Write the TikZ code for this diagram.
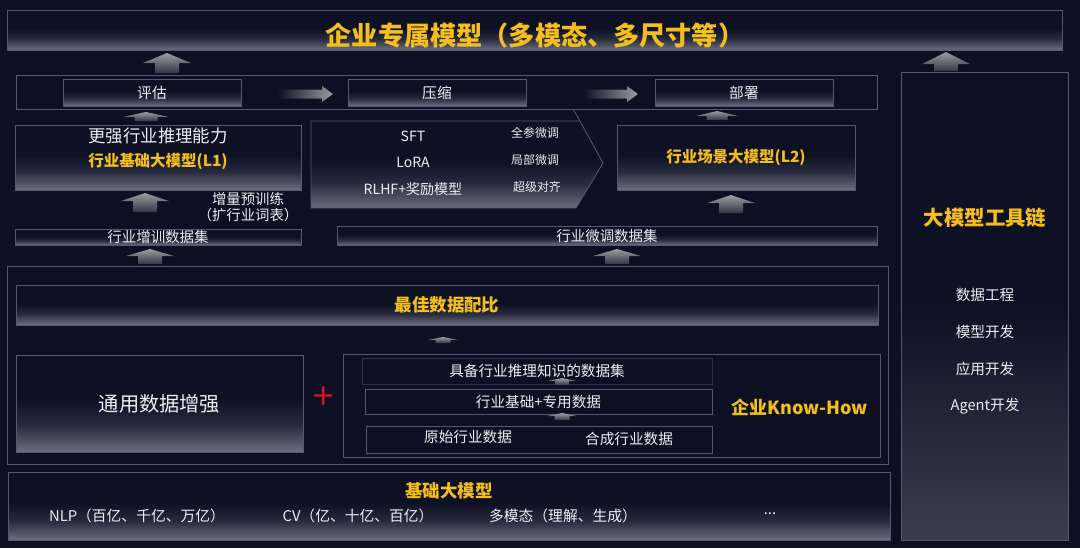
\documentclass[tikz,border=0pt]{standalone}
\usepackage{fontspec}
\setmainfont{Noto Sans CJK SC}
\usetikzlibrary{calc}

\definecolor{bg}{RGB}{13,15,34}
\definecolor{golden}{RGB}{244,190,28}
\definecolor{edge}{RGB}{84,88,114}
\definecolor{shtop}{RGB}{14,16,36}
\definecolor{shmid}{RGB}{40,42,62}
\definecolor{shbot}{RGB}{108,110,126}
\definecolor{tlbot}{RGB}{60,62,78}
\definecolor{arrtop}{RGB}{156,156,162}
\definecolor{arrbot}{RGB}{52,54,68}
\definecolor{plusred}{RGB}{205,25,35}
\definecolor{wtxt}{RGB}{238,238,242}

% visible band of a tikz shading is 25bp..75bp
\pgfdeclareverticalshading{boxshade}{100bp}{color(0bp)=(shbot); color(25bp)=(shbot); color(39bp)=(shmid); color(52bp)=(shtop); color(75bp)=(shtop); color(100bp)=(shtop)}
\pgfdeclareverticalshading{toolshade}{100bp}{color(0bp)=(tlbot); color(25bp)=(tlbot); color(50bp)=(shtop); color(75bp)=(shtop); color(100bp)=(shtop)}

\newcommand{\fs}[1]{\fontsize{#1}{#1}\selectfont}
\newcommand{\gfs}[1]{\fontsize{#1}{#1}\selectfont\bfseries}
% up block arrow: x, tip y, head base y, bottom y, half width of head
\newcommand{\uparr}[5]{\shade[top color=arrtop, bottom color=arrbot] (#1,#2) -- (#1+#5,#3) -- (#1+#5/2,#3) -- (#1+#5/2,#4) -- (#1-#5/2,#4) -- (#1-#5/2,#3) -- (#1-#5,#3) -- cycle;}
% right block arrow: start x, head x, tip x, mid y
\newcommand{\rarr}[4]{\shade[left color=bg, right color=arrtop] (#1,#4-4.5) -- (#2,#4-4.5) -- (#2,#4-8) -- (#3,#4) -- (#2,#4+8) -- (#2,#4+4.5) -- (#1,#4+4.5) -- cycle;}

\begin{document}
\begin{tikzpicture}[x=0.025cm, y=-0.025cm,
  sz/.style 2 args={minimum width=#1*0.025cm, minimum height=#2*0.025cm},
  box/.style={draw=edge, line width=0.6pt, shade, shading=boxshade, inner sep=0pt, text=wtxt},
  frame/.style={draw=edge, line width=0.7pt, inner sep=0pt},
  sub/.style={draw=edge, line width=0.6pt, fill=bg, inner sep=0pt, text=wtxt, font=\fs{10.4}},
  txt/.style={text=wtxt, inner sep=0pt, font=\fs{10.4}},
  goldtxt/.style={text=golden, inner sep=0pt}]

\fill[bg] (0,0) rectangle (1080,548);

% top
\node[box, sz={1055}{40}] (top) at (534.5,30) {};
\node[goldtxt, font=\gfs{18.6}] (topt) at (535,35) {企业专属模型（多模态、多尺寸等）};

% evaluate / compress / deploy
\node[frame, sz={861}{34}] (row) at (446.5,92) {};
\node[box, sz={178}{27}, font=\fs{10.5}] (eval) at (152,92.5) {评估};
\node[box, sz={178}{27}, font=\fs{10.5}] (comp) at (437,92.5) {压缩};
\node[box, sz={178}{27}, font=\fs{10.5}] (dep) at (744,92.5) {部署};
\rarr{277}{322}{333}{94}
\rarr{583}{627}{638}{94}

% L1
\node[box, sz={286}{65}] (l1) at (158,157.5) {};
\node[txt, font=\fs{12.4}] (l1a) at (158,136) {更强行业推理能力};
\node[goldtxt, font=\gfs{11}] (l1b) at (158,161) {行业基础大模型(L1)};

% fine-tuning
\shade[shading=boxshade, draw=edge, line width=0.6pt] (311,121) -- (580,121) -- (603,163) -- (576,208) -- (311,208) -- cycle;
\draw[edge, line width=0.6pt] (573,109) -- (580,121);
\node[txt, font=\fs{10}] (sft) at (413,136) {SFT};
\node[txt, font=\fs{10}] (lora) at (413,162) {LoRA};
\node[txt, font=\fs{10}] (rlhf) at (413,189) {RLHF+奖励模型};
\node[txt, font=\fs{8.5}] (full) at (535,133) {全参微调};
\node[txt, font=\fs{8.5}] (part) at (535,160) {局部微调};
\node[txt, font=\fs{8.5}] (align) at (537,187) {超级对齐};

% L2
\node[box, sz={238}{65}, text=golden, font=\gfs{11}] (l2) at (736,157.5) {行业场景大模型(L2)};

% datasets
\node[box, sz={286}{16}, font=\fs{10.3}] (zx) at (158,237) {行业增训数据集};
\node[box, sz={540}{19}, font=\fs{10.3}] (wt) at (607,235.5) {行业微调数据集};
\node[txt, font=\fontsize{10.2}{11.6}\selectfont, align=center] (pre) at (248,207) {增量预训练\\（扩行业词表）};

% data mix
\node[frame, sz={881}{198}] (mid) at (447.5,365) {};
\node[box, sz={862}{40}, text=golden, font=\gfs{12.4}] (mix) at (447,305) {最佳数据配比};
\node[box, sz={287}{97}, font=\fs{14.4}] (gen) at (159.5,403.5) {通用数据增强};
\node[text=plusred, inner sep=0pt, font=\fs{26}] (plus) at (324,398) {+};
\node[frame, sz={537}{103}] (kh) at (611.5,406) {};
\node[sub, sz={350}{26}, draw=edge!45!bg] (s1) at (537,371) {具备行业推理知识的数据集};
\node[sub, sz={347}{25}] (s2) at (538.5,401.5) {行业基础+专用数据};
\node[sub, sz={346}{27}] (s3) at (539,439.5) {};
\node[txt] (raw) at (468,437) {原始行业数据};
\node[txt] (syn) at (629,439) {合成行业数据};
\node[goldtxt, font=\gfs{12.8}] (know) at (800,407) {企业Know-How};

% base models
\node[box, sz={882}{68}] (base) at (449,506) {};
\node[goldtxt, font=\gfs{12.4}] (baset) at (449,491) {基础大模型};
\node[txt, font=\fs{10.5}] (nlp) at (137,516) {NLP（百亿、千亿、万亿）};
\node[txt, font=\fs{10.5}] (cv) at (358,516) {CV（亿、十亿、百亿）};
\node[txt, font=\fs{10.5}] (mm) at (563,516) {多模态（理解、生成）};
\node[txt, font=\fs{10.5}] (etc) at (770,514) {...};

% toolchain
\node[draw=edge, line width=0.6pt, shade, shading=toolshade, sz={167}{468}, inner sep=0pt] (tool) at (984.5,306) {};
\node[goldtxt, font=\gfs{14.5}] (toolt) at (985,218) {大模型工具链};
\foreach \t [count=\i] in {数据工程, 模型开发, 应用开发, Agent开发}
  \node[txt] (t\i) at (985,258+37*\i) {\t};

% up arrows
\uparr{167}{53}{63}{73}{24}
\uparr{946}{52}{64}{71}{24}
\uparr{146}{112}{117}{121}{23}
\uparr{717}{111}{116}{120}{21}
\uparr{145}{193}{201}{212}{24}
\uparr{731}{195}{203}{213}{24}
\uparr{150}{249}{256}{264}{24}
\uparr{617}{249}{256}{264}{24}
\uparr{443}{337}{340}{343}{15}
\uparr{562}{378}{381}{385}{14}
\uparr{562}{413}{416}{420}{15}
\end{tikzpicture}
\end{document}
